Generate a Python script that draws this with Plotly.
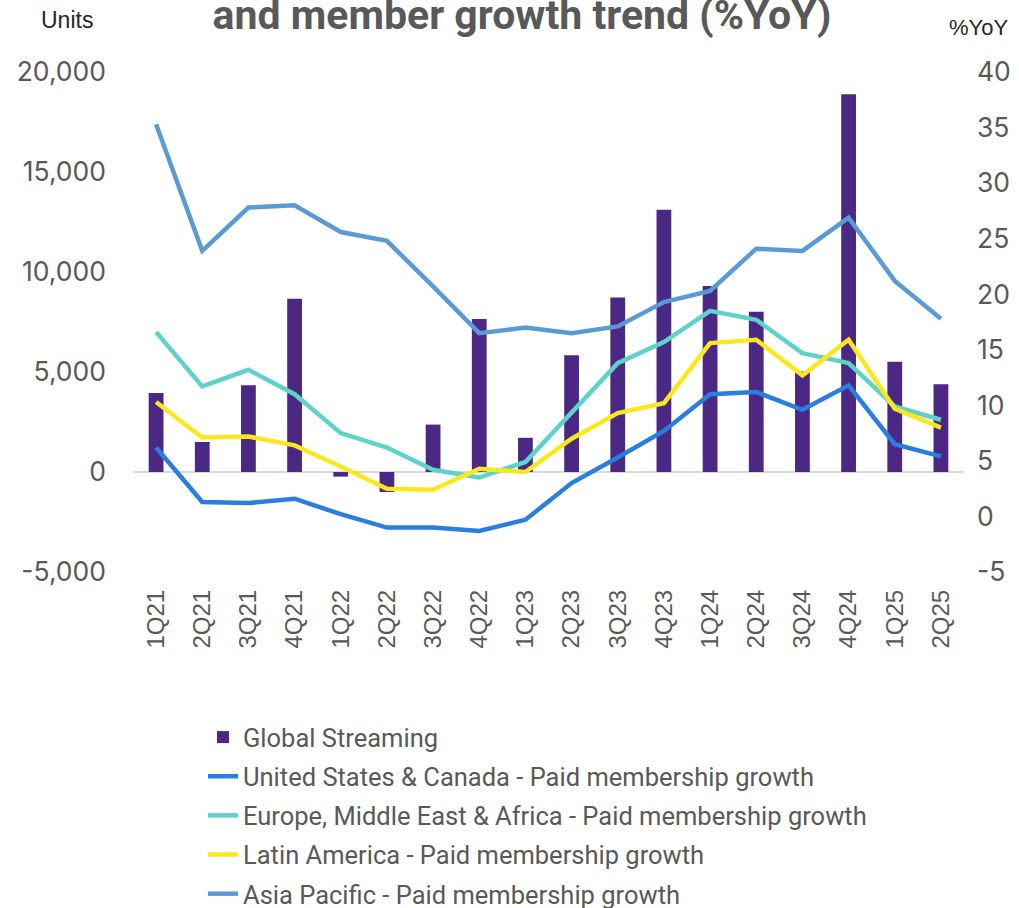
import plotly.graph_objects as go

quarters = ["1Q21", "2Q21", "3Q21", "4Q21", "1Q22", "2Q22", "3Q22", "4Q22", "1Q23",
            "2Q23", "3Q23", "4Q23", "1Q24", "2Q24", "3Q24", "4Q24", "1Q25", "2Q25"]

global_streaming = [3950, 1500, 4340, 8660, -230, -1000, 2370, 7650, 1710,
                    5840, 8730, 13110, 9300, 8010, 5020, 18890, 5510, 4390]

us_canada = [6.2, 1.3, 1.2, 1.6, 0.2, -1.0, -1.0, -1.3, -0.3,
             3.0, 5.3, 7.7, 11.0, 11.2, 9.6, 11.8, 6.5, 5.4]

emea = [16.6, 11.7, 13.2, 11.0, 7.5, 6.2, 4.2, 3.5, 4.9,
        9.3, 13.8, 15.7, 18.5, 17.7, 14.7, 13.8, 9.9, 8.7]

latam = [10.3, 7.1, 7.2, 6.4, 4.5, 2.5, 2.4, 4.3, 4.0,
         7.0, 9.3, 10.2, 15.6, 15.9, 12.7, 15.9, 9.7, 8.0]

apac = [35.3, 23.9, 27.8, 28.0, 25.6, 24.8, 20.7, 16.5, 17.0,
        16.5, 17.1, 19.3, 20.3, 24.1, 23.9, 26.9, 21.2, 17.8]

left_ticks = [-5000, 0, 5000, 10000, 15000, 20000]
left_labels = ["-5,000", "0", "5,000", "10,000", "15,000", "20,000"]
right_ticks = [-5, 0, 5, 10, 15, 20, 25, 30, 35, 40]
right_labels = ["-5", "0", "5", "10", "15", "20", "25", "30", "35", "40"]

line_series = [
    ("United States & Canada - Paid membership growth", us_canada, "#2A7DE1"),
    ("Europe, Middle East & Africa - Paid membership growth", emea, "#5FD2CA"),
    ("Latin America - Paid membership growth", latam, "#FAE81E"),
    ("Asia Pacific - Paid membership growth", apac, "#5B9BD5"),
]

fig = go.Figure()
fig.add_trace(go.Bar(
    x=quarters, y=global_streaming, name="Global Streaming",
    marker=dict(color="#4B2884", line=dict(width=0)),
    legendgroup="g0", yaxis="y",
))
for i, (name, vals, color) in enumerate(line_series):
    fig.add_trace(go.Scatter(
        x=quarters, y=vals, name=name, mode="lines",
        line=dict(color=color, width=4.5),
        legendgroup=f"g{i+1}", yaxis="y2",
    ))

tick_font = dict(family="Inter, Roboto, sans-serif", size=26.5, color="#595959")

W, H = 1019, 908
fig.update_layout(
    width=W, height=H,
    margin=dict(l=133, r=55, t=72, b=336, autoexpand=False),
    plot_bgcolor="white", paper_bgcolor="white",
    bargap=0.68,
    showlegend=True,
    title=dict(
        text="<b>and member growth trend (%YoY)</b>",
        x=522 / W, xanchor="center", xref="container",
        y=1 - 15 / H, yanchor="middle", yref="container",
        font=dict(family="Roboto, sans-serif", size=41, color="#595959"),
    ),
    xaxis=dict(
        type="category", tickangle=-90,
        tickfont=dict(family="Liberation Sans, Arial, sans-serif", size=24, color="#595959"),
        showgrid=False, showline=False, ticks="", ticklabelstandoff=12,
    ),
    yaxis=dict(
        range=[-5000, 20000], tickvals=left_ticks, ticktext=left_labels,
        tickfont=tick_font, showgrid=False, showline=False, ticks="",
        zeroline=True, zerolinecolor="#D9D9D9", zerolinewidth=2,
        ticklabelstandoff=26,
    ),
    yaxis2=dict(
        range=[-5, 40], tickvals=right_ticks, ticktext=right_labels,
        overlaying="y", side="right",
        tickfont=tick_font, showgrid=False, showline=False, ticks="",
        zeroline=False, ticklabelstandoff=12,
    ),
    legend=dict(
        orientation="v", xref="container", x=203 / W, xanchor="left",
        yref="container", y=1 - 714 / H, yanchor="top",
        font=dict(family="Roboto, sans-serif", size=25.5, color="#595959"),
        tracegroupgap=3, traceorder="grouped",
        bgcolor="rgba(0,0,0,0)",
    ),
    annotations=[
        dict(text="Units", xref="paper", yref="paper",
             x=(67 - 133) / 831, y=(572 - 20) / 500, xanchor="center", yanchor="middle",
             showarrow=False,
             font=dict(family="Liberation Sans Narrow, sans-serif", size=23, color="#262626")),
        dict(text="%YoY", xref="paper", yref="paper",
             x=(978 - 133) / 831, y=(572 - 28) / 500, xanchor="center", yanchor="middle",
             showarrow=False,
             font=dict(family="Liberation Sans Narrow, sans-serif", size=22, color="#262626")),
    ],
)

fig.write_html("out.html", config={"displayModeBar": False},
               post_script="document.body.style.margin='0';")
